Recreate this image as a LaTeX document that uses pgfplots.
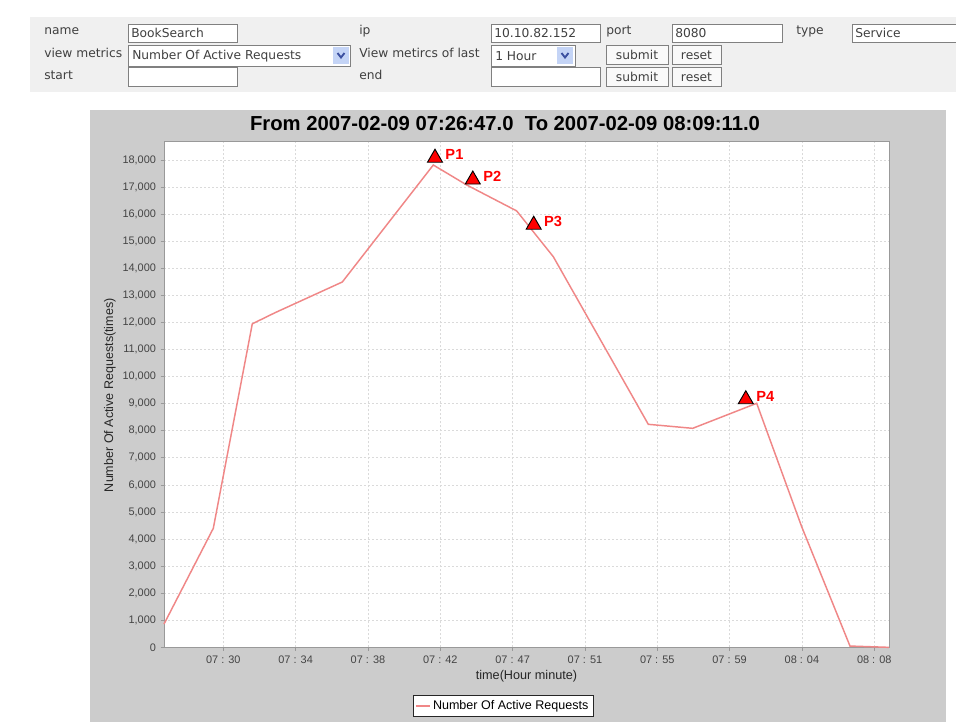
\documentclass[border=0pt]{standalone}
\usepackage{pgfplots}
\pgfplotsset{compat=1.18}
\usepackage{fontspec}
\setmainfont{Liberation Sans}
\newfontfamily\formfont{DejaVu Sans}
\definecolor{panel}{RGB}{204,204,204}
\definecolor{pagebg}{RGB}{240,240,240}
\definecolor{boxline}{RGB}{128,128,128}
\definecolor{series}{RGB}{240,135,135}
\definecolor{ticktxt}{RGB}{68,68,68}
\definecolor{gridc}{RGB}{218,218,218}
\definecolor{arrowbg}{RGB}{196,212,246}
\definecolor{arrowfg}{RGB}{60,80,160}
\pgfplotstableread{
x y
26.783 860
29.666 4396
31.947 11950
33.275 12360
37.211 13495
42.533 17816
44.486 17078
47.409 16120
49.550 14430
55.105 8238
57.702 8090
61.445 9014
64.077 4455
66.901 48
69.183 0
}\seriesdata
\pgfplotstableread{
x y label
42.632 18079 P1
44.842 17274 P2
48.404 15604 P3
60.808 9158 P4
}\markdata
\begin{document}
\begin{tikzpicture}
\begin{scope}[x=0.75pt,y=-0.75pt,
  ftxt/.style={font=\formfont\fontsize{9.2}{10}\selectfont, text=black!75, inner sep=0pt, anchor=west},
  box/.style={draw=boxline, fill=white, line width=0.75pt},
  btn/.style={draw=boxline, fill=white!95!gray, line width=0.75pt}]
\useasboundingbox (0,0) rectangle (956,722);
\fill[white] (0,0) rectangle (956,722);
\fill[pagebg] (30,17) rectangle (956,92);
% row 1
\node[ftxt] at (44,31) {name};
\draw[box] (128,24) rectangle (237,42); \node[ftxt] at (131,33) {BookSearch};
\node[ftxt] at (359,31) {ip};
\draw[box] (491,24) rectangle (600,42); \node[ftxt] at (494,33) {10.10.82.152};
\node[ftxt] at (606,31) {port};
\draw[box] (672,24) rectangle (782,42); \node[ftxt] at (675,33) {8080};
\node[ftxt] at (796,31) {type};
\draw[box] (852,24) rectangle (970,42); \node[ftxt] at (855,33) {Service};
% row 2
\node[ftxt] at (44,53) {view metrics};
\draw[box] (128,45) rectangle (350,66); \node[ftxt] at (132,56) {Number Of Active Requests};
\fill[arrowbg] (333,47) rectangle (349,64);
\draw[arrowfg, line width=1.4pt] (337.5,53) -- (341,57.5) -- (344.5,53);
\node[ftxt] at (359,53) {View metircs of last};
\draw[box] (491,45) rectangle (575,66); \node[ftxt] at (495,56) {1 Hour};
\fill[arrowbg] (557,47) rectangle (573,64);
\draw[arrowfg, line width=1.4pt] (561.5,53) -- (565,57.5) -- (568.5,53);
\draw[btn] (606,45) rectangle (668,64); \node[ftxt, anchor=center] at (637,55) {submit};
\draw[btn] (672,45) rectangle (721,64); \node[ftxt, anchor=center] at (696.5,55) {reset};
% row 3
\node[ftxt] at (44,75) {start};
\draw[box] (128,67) rectangle (237,86);
\node[ftxt] at (359,75) {end};
\draw[box] (491,67) rectangle (600,86);
\draw[btn] (606,67) rectangle (668,86); \node[ftxt, anchor=center] at (637,77) {submit};
\draw[btn] (672,67) rectangle (721,86); \node[ftxt, anchor=center] at (696.5,77) {reset};
% chart panel
\fill[panel] (90,110) rectangle (946,722);
\node[font=\bfseries\fontsize{15.2}{17}\selectfont, inner sep=0pt] at (505,124) {From 2007-02-09 07:26:47.0\ \ To 2007-02-09 08:09:11.0};
\end{scope}
\begin{axis}[
  at={(123pt,-485.5pt)}, anchor=south west,
  scale only axis, width=543.75pt, height=379.7pt,
  xmin=26.783, xmax=69.183, ymin=0, ymax=18700,
  axis background/.style={fill=white},
  axis line style={draw=gray!80},
  xtick={30.251,34.481,38.711,42.941,47.171,51.401,55.631,59.861,64.091,68.321},
  xticklabels={07 : 30,07 : 34,07 : 38,07 : 42,07 : 47,07 : 51,07 : 55,07 : 59,08 : 04,08 : 08},
  ytick={0,1000,...,18000},
  /pgf/number format/.cd, 1000 sep={,}, assume math mode=true, /pgfplots/.cd,
  scaled y ticks=false,
  tick align=outside, major tick length=2.5pt,
  tick style={draw=gray!80, line width=0.5pt},
  xtick pos=bottom, ytick pos=left,
  ticklabel style={font=\fontsize{8.2}{9}\selectfont, text=ticktxt},
  grid=major,
  major grid style={draw=gridc, line width=0.6pt, dash pattern=on 1.5pt off 1.5pt},
  xlabel={time(Hour minute)},
  ylabel={Number Of Active Requests(times)},
  xlabel style={font=\fontsize{9.5}{11}\selectfont, text=black!85, at={(axis description cs:0.5,-0.0567)}, anchor=center},
  ylabel style={font=\fontsize{9.4}{11}\selectfont, text=black!85, at={(axis description cs:-0.0745,0.498)}, anchor=center, rotate=0},
  legend style={at={(axis description cs:0.468,-0.116)}, anchor=center, draw=black!85, line width=0.6pt, fill=white, font=\fontsize{9.4}{11}\selectfont, inner xsep=2pt, inner ysep=1.5pt},
  legend image code/.code={\draw[#1] (0pt,0pt) -- (10pt,0pt);},
  clip=false,
]
\addplot[series, line width=1.1pt] table[x=x,y=y] {\seriesdata};
\addlegendentry{Number Of Active Requests}
\addplot[forget plot, only marks, mark=triangle*, mark size=6.5pt,
  mark options={fill=red, draw=black, line width=0.7pt},
  nodes near coords, point meta=explicit symbolic,
  nodes near coords style={anchor=west, inner sep=0pt, xshift=7.5pt, yshift=2.2pt, text=red, font=\bfseries\fontsize{11}{12}\selectfont}]
  table[x=x,y=y,meta=label] {\markdata};
\end{axis}
\end{tikzpicture}
\end{document}
